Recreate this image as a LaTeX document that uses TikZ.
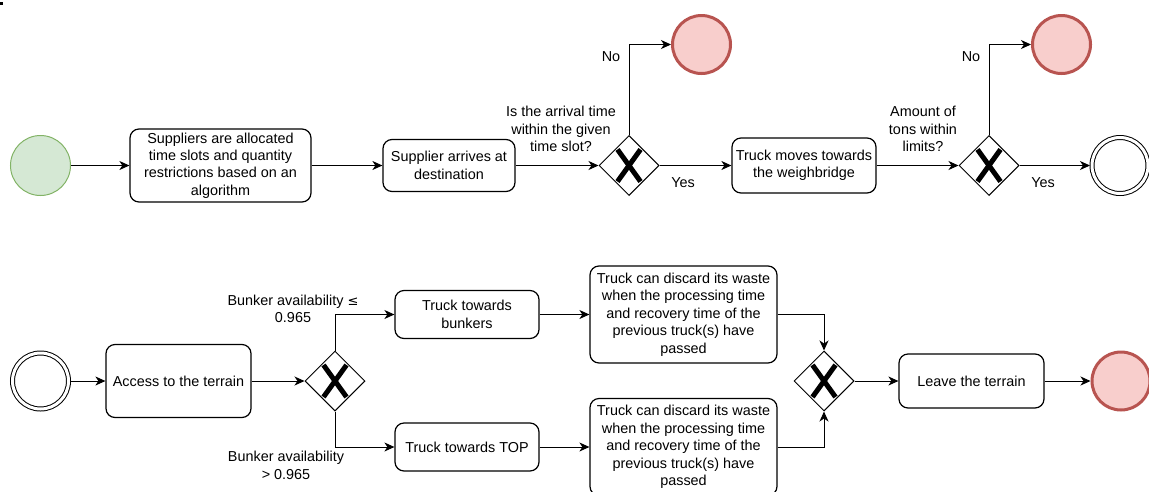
\documentclass[tikz,border=0pt]{standalone}
\usepackage{fontspec}
\setmainfont{Liberation Sans}
\newfontfamily\symfont{DejaVu Sans}
\usetikzlibrary{shapes.geometric,arrows.meta}
\definecolor{startfill}{HTML}{D5E8D4}
\definecolor{startline}{HTML}{82B366}
\definecolor{endfill}{HTML}{F8CECC}
\definecolor{endline}{HTML}{B85450}
\tikzset{
  txt/.style={font=\fontsize{14.4}{17.4}\selectfont, align=center, inner sep=0pt},
  task/.style={txt, draw=black, line width=1.2pt, rounded corners=9pt, minimum width=#1},
  flow/.style={line width=1pt, -{Stealth[length=10pt,width=9pt,inset=3pt]}},
  startev/.style={circle, draw=startline, fill=startfill, line width=1pt, minimum size=60pt, inner sep=0pt},
  endev/.style={circle, draw=endline, fill=endfill, line width=3pt, minimum size=58pt, inner sep=0pt},
  midev/.style={circle, draw=black, double=white, double distance=3pt, line width=1pt, minimum size=56pt, inner sep=0pt, outer sep=2pt},
  gw/.style={diamond, draw=black, fill=white, line width=1pt, minimum width=60pt, minimum height=60pt, inner sep=0pt,
    path picture={
      \draw[line width=5pt] ([xshift=-11.5pt,yshift=-16pt]path picture bounding box.center) -- ([xshift=11.5pt,yshift=16pt]path picture bounding box.center);
      \draw[line width=5pt] ([xshift=-11.5pt,yshift=16pt]path picture bounding box.center) -- ([xshift=11.5pt,yshift=-16pt]path picture bounding box.center);
    }},
}
\begin{document}
\begin{tikzpicture}[x=1pt,y=-1pt]
\useasboundingbox (0,0) rectangle (1149,491);
\clip (0,0) rectangle (1149,491);
\fill[black] (0,2) rectangle (3,5);
% top row
\node[startev] (s1) at (40.5,165.5) {};
\node[task=181pt, minimum height=73pt] (t1) at (220.5,165.5) {Suppliers are allocated\\time slots and quantity\\restrictions based on an\\algorithm};
\node[task=132pt, minimum height=52pt] (t2) at (449,165.5) {Supplier arrives at\\destination};
\node[gw] (g1) at (629,165.5) {};
\node[endev] (e1) at (701.5,44.5) {};
\node[task=144pt, minimum height=55pt] (t3) at (804,165.5) {Truck moves towards\\the weighbridge};
\node[gw] (g2) at (989,165.5) {};
\node[endev] (e2) at (1061.5,44.5) {};
\node[midev] (m1) at (1120,165.5) {};
\draw[flow] (s1) -- (t1);
\draw[flow] (t1) -- (t2);
\draw[flow] (t2) -- (g1);
\draw[flow] (g1.north) |- (e1.west);
\draw[flow] (g1) -- (t3);
\draw[flow] (t3) -- (g2);
\draw[flow] (g2.north) |- (e2.west);
\draw[flow] (g2) -- (m1);
\node[txt] (q1) at (561,129) {Is the arrival time\\within the given\\time slot?};
\node[txt] (q2) at (923,129) {Amount of\\tons within\\limits?};
\node[txt] (n1) at (611,57) {No};
\node[txt] (y1) at (683,183) {Yes};
\node[txt] (n2) at (971,57) {No};
\node[txt] (y2) at (1043,183) {Yes};
% bottom row
\node[midev] (m2) at (40.5,381) {};
\node[task=145pt, minimum height=73pt] (a1) at (178.5,381) {Access to the terrain};
\node[gw] (g3) at (335,381) {};
\node[task=144pt, minimum height=48pt] (b1) at (467,314.5) {Truck towards\\bunkers};
\node[task=144pt, minimum height=48pt] (b2) at (467,447) {Truck towards TOP};
\node[task=187pt, minimum height=97pt] (d1) at (683.5,314.5) {Truck can discard its waste\\when the processing time\\and recovery time of the\\previous truck(s) have\\passed};
\node[task=187pt, minimum height=97pt] (d2) at (683.5,447) {Truck can discard its waste\\when the processing time\\and recovery time of the\\previous truck(s) have\\passed};
\node[gw] (g4) at (824,381) {};
\node[task=145pt, minimum height=54pt] (l1) at (971.5,381) {Leave the terrain};
\node[endev] (e3) at (1121,381) {};
\draw[flow] (m2) -- (a1);
\draw[flow] (a1) -- (g3);
\draw[flow] (g3.north) |- (b1.west);
\draw[flow] (g3.south) |- (b2.west);
\draw[flow] (b1) -- (d1);
\draw[flow] (b2) -- (d2);
\draw[flow] (d1.east) -| (g4.north);
\draw[flow] (d2.east) -| (g4.south);
\draw[flow] (g4) -- (l1);
\draw[flow] (l1) -- (e3);
\node[txt] (c1) at (293,309) {Bunker availability {\symfont\fontsize{13}{17.4}\selectfont ≤}\\0.965};
\node[txt] (c2) at (286,465.5) {Bunker availability\\> 0.965};
\end{tikzpicture}
\end{document}
